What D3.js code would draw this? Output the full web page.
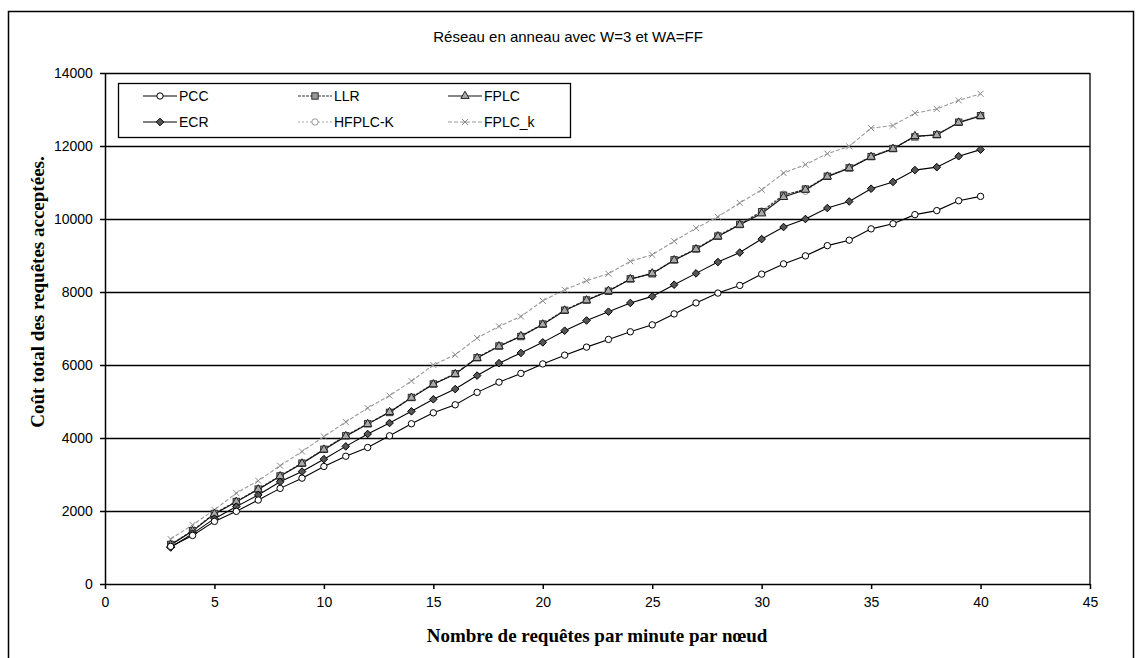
<!DOCTYPE html>
<html>
<head>
<meta charset="utf-8">
<title>Réseau en anneau</title>
<script src="https://d3js.org/d3.v7.min.js"></script>
<style>
body, html {
  margin: 0;
  padding: 0;
  background: #fff;
}
svg {
  display: block;
  font-family: "Liberation Sans", Arial, sans-serif;
}
</style>
</head>
<body>
<svg id="chart" width="1142" height="658"></svg>
<script>

// x values: requests per minute per node
const xValues = [3,4,5,6,7,8,9,10,11,12,13,14,15,16,17,18,19,20,21,22,23,24,25,26,27,28,29,30,31,32,33,34,35,36,37,38,39,40];

const pcc = [1030,1330,1715,1990,2300,2620,2900,3220,3500,3740,4060,4390,4690,4910,5250,5530,5770,6030,6270,6490,6700,6910,7100,7400,7700,7970,8180,8490,8770,8990,9270,9420,9730,9870,10120,10230,10500,10620];
const ecr = [1000,1380,1790,2120,2440,2800,3080,3420,3770,4110,4410,4730,5060,5340,5710,6050,6330,6620,6940,7220,7460,7700,7880,8200,8510,8820,9080,9450,9780,10000,10300,10480,10830,11015,11340,11420,11720,11900];
const llr = [1080,1460,1930,2260,2600,2960,3310,3690,4060,4390,4700,5110,5480,5760,6200,6520,6780,7120,7500,7780,8020,8360,8500,8880,9180,9530,9850,10200,10650,10820,11170,11400,11710,11930,12250,12310,12650,12830];
const fplc = [1070,1450,1920,2250,2590,2950,3300,3680,4050,4380,4710,5100,5470,5750,6190,6510,6790,7110,7490,7770,8030,8350,8510,8870,9170,9520,9840,10150,10600,10800,11160,11390,11700,11920,12270,12300,12640,12820];
const hfplck = [1090,1470,1940,2270,2610,2970,3320,3700,4070,4400,4720,5120,5490,5770,6210,6530,6800,7130,7510,7790,8040,8370,8520,8890,9190,9560,9870,10220,10680,10760,11180,11410,11720,11940,12260,12320,12660,12840];
const fplck = [1230,1620,2030,2490,2830,3240,3630,4040,4440,4820,5160,5560,6000,6280,6740,7060,7330,7760,8060,8310,8500,8840,9020,9390,9750,10060,10440,10800,11260,11490,11790,11990,12490,12560,12900,13015,13250,13430];

const xTicks = [0,5,10,15,20,25,30,35,40,45];
const yTicks = [0,2000,4000,6000,8000,10000,12000,14000];

const titleText = "Réseau en anneau avec W=3 et WA=FF";
const xLabel = "Nombre de requêtes par minute par nœud";
const yLabel = "Coût total des requêtes acceptées.";

const series = [
  { name: "PCC",     values: pcc,    line: "#000", dash: null,  marker: "circle",   fill: "#fff",  stroke: "#000" },
  { name: "LLR",     values: llr,    line: "#333", dash: "3,1", marker: "square",   fill: "#999",  stroke: "#333" },
  { name: "FPLC",    values: fplc,   line: "#111", dash: null,  marker: "triangle", fill: "#aaa",  stroke: "#222" },
  { name: "ECR",     values: ecr,    line: "#000", dash: null,  marker: "diamond",  fill: "#555",  stroke: "#000" },
  { name: "HFPLC-K", values: hfplck, line: "#aaa", dash: "2,2", marker: "circle",   fill: "#fff",  stroke: "#999" },
  { name: "FPLC_k",  values: fplck,  line: "#999", dash: "4,2", marker: "cross",    fill: "none",  stroke: "#888" }
];

function main() {
  const svg = d3.select("#chart");

  // outer frame
  svg.append("rect")
    .attr("x", 8.5).attr("y", 11.5)
    .attr("width", 1125).attr("height", 660)
    .attr("fill", "none").attr("stroke", "#000").attr("stroke-width", 1.5);

  const x = d3.scaleLinear().domain([0, 45]).range([105, 1090]);
  const y = d3.scaleLinear().domain([0, 14000]).range([584, 73]);

  // gridlines
  svg.append("g").selectAll("line")
    .data(yTicks.filter(d => d > 0))
    .join("line")
    .attr("x1", x(0)).attr("x2", x(45))
    .attr("y1", d => Math.round(y(d)) + 0.5).attr("y2", d => Math.round(y(d)) + 0.5)
    .attr("stroke", "#000").attr("stroke-width", 1.3);

  // right border of plot area
  svg.append("line")
    .attr("x1", x(45)).attr("x2", x(45))
    .attr("y1", y(14000)).attr("y2", y(0))
    .attr("stroke", "#000").attr("stroke-width", 1.3);

  const xAxis = d3.axisBottom(x).tickValues(xTicks).tickSize(5).tickSizeOuter(0);
  const gx = svg.append("g")
    .attr("transform", "translate(0," + y(0) + ")")
    .call(xAxis);
  gx.selectAll("text").attr("dy", "1.1em");

  const yAxis = d3.axisLeft(y).tickValues(yTicks).tickFormat(d3.format("d"))
    .tickSize(5).tickSizeOuter(0);
  const gy = svg.append("g")
    .attr("transform", "translate(" + x(0) + ",0)")
    .call(yAxis);
  gy.selectAll("text").attr("dx", "-0.3em");

  svg.selectAll(".tick text")
    .style("font-size", "14px")
    .style("font-family", "'Liberation Sans', Arial, sans-serif")
    .attr("fill", "#000");
  svg.selectAll(".domain, .tick line")
    .attr("stroke", "#000").attr("stroke-width", 1.5);

  // series lines
  const line = d3.line()
    .x((d, i) => x(xValues[i]))
    .y(d => y(d));

  const order = [5, 4, 1, 2, 3, 0];
  for (const k of order) {
    const s = series[k];
    svg.append("path")
      .attr("d", line(s.values))
      .attr("fill", "none")
      .attr("stroke", s.line)
      .attr("stroke-width", 1.1)
      .attr("stroke-dasharray", s.dash);
  }
  for (const k of order) {
    const s = series[k];
    s.values.forEach((v, i) => drawMarker(svg, s, x(xValues[i]), y(v)));
  }

  // legend
  const legend = svg.append("g");
  legend.append("rect")
    .attr("x", 118.5).attr("y", 83.5)
    .attr("width", 452).attr("height", 54)
    .attr("fill", "#fff").attr("stroke", "#000").attr("stroke-width", 1.3);

  const colX = [143, 298, 448];
  const rowY = [96, 122];
  series.forEach((s, i) => {
    const cx = colX[i % 3];
    const cy = rowY[Math.floor(i / 3)];
    legend.append("line")
      .attr("x1", cx).attr("x2", cx + 34)
      .attr("y1", cy).attr("y2", cy)
      .attr("stroke", s.line).attr("stroke-width", 1.1)
      .attr("stroke-dasharray", s.dash);
    drawMarker(legend, s, cx + 17, cy);
    legend.append("text")
      .attr("x", cx + 36).attr("y", cy + 5)
      .style("font-size", "14px")
      .text(s.name);
  });

  // title
  svg.append("text")
    .attr("x", 568).attr("y", 42)
    .attr("text-anchor", "middle")
    .style("font-size", "15px")
    .text(titleText);

  // axis labels
  svg.append("text")
    .attr("x", 597).attr("y", 642)
    .attr("text-anchor", "middle")
    .style("font-family", "'Liberation Serif', 'Times New Roman', serif")
    .style("font-weight", "bold")
    .style("font-size", "19px")
    .text(xLabel);

  svg.append("text")
    .attr("transform", "translate(44,292) rotate(-90)")
    .attr("text-anchor", "middle")
    .style("font-family", "'Liberation Serif', 'Times New Roman', serif")
    .style("font-weight", "bold")
    .style("font-size", "19px")
    .text(yLabel);
}

function drawMarker(g, s, cx, cy) {
  const r = 3.2;
  if (s.marker === "circle") {
    g.append("circle").attr("cx", cx).attr("cy", cy).attr("r", r)
      .attr("fill", s.fill).attr("stroke", s.stroke).attr("stroke-width", 1);
  } else if (s.marker === "square") {
    g.append("rect").attr("x", cx - r).attr("y", cy - r)
      .attr("width", 2 * r).attr("height", 2 * r)
      .attr("fill", s.fill).attr("stroke", s.stroke).attr("stroke-width", 1);
  } else if (s.marker === "triangle") {
    g.append("path")
      .attr("d", d3.symbol(d3.symbolTriangle, 30)())
      .attr("transform", "translate(" + cx + "," + cy + ")")
      .attr("fill", s.fill).attr("stroke", s.stroke).attr("stroke-width", 1);
  } else if (s.marker === "diamond") {
    g.append("path")
      .attr("d", "M0,-3.8L3.8,0L0,3.8L-3.8,0Z")
      .attr("transform", "translate(" + cx + "," + cy + ")")
      .attr("fill", s.fill).attr("stroke", s.stroke).attr("stroke-width", 1);
  } else if (s.marker === "cross") {
    g.append("path")
      .attr("d", "M-3,-3L3,3M-3,3L3,-3")
      .attr("transform", "translate(" + cx + "," + cy + ")")
      .attr("fill", "none").attr("stroke", s.stroke).attr("stroke-width", 1);
  }
}

main();

</script>
</body>
</html>
